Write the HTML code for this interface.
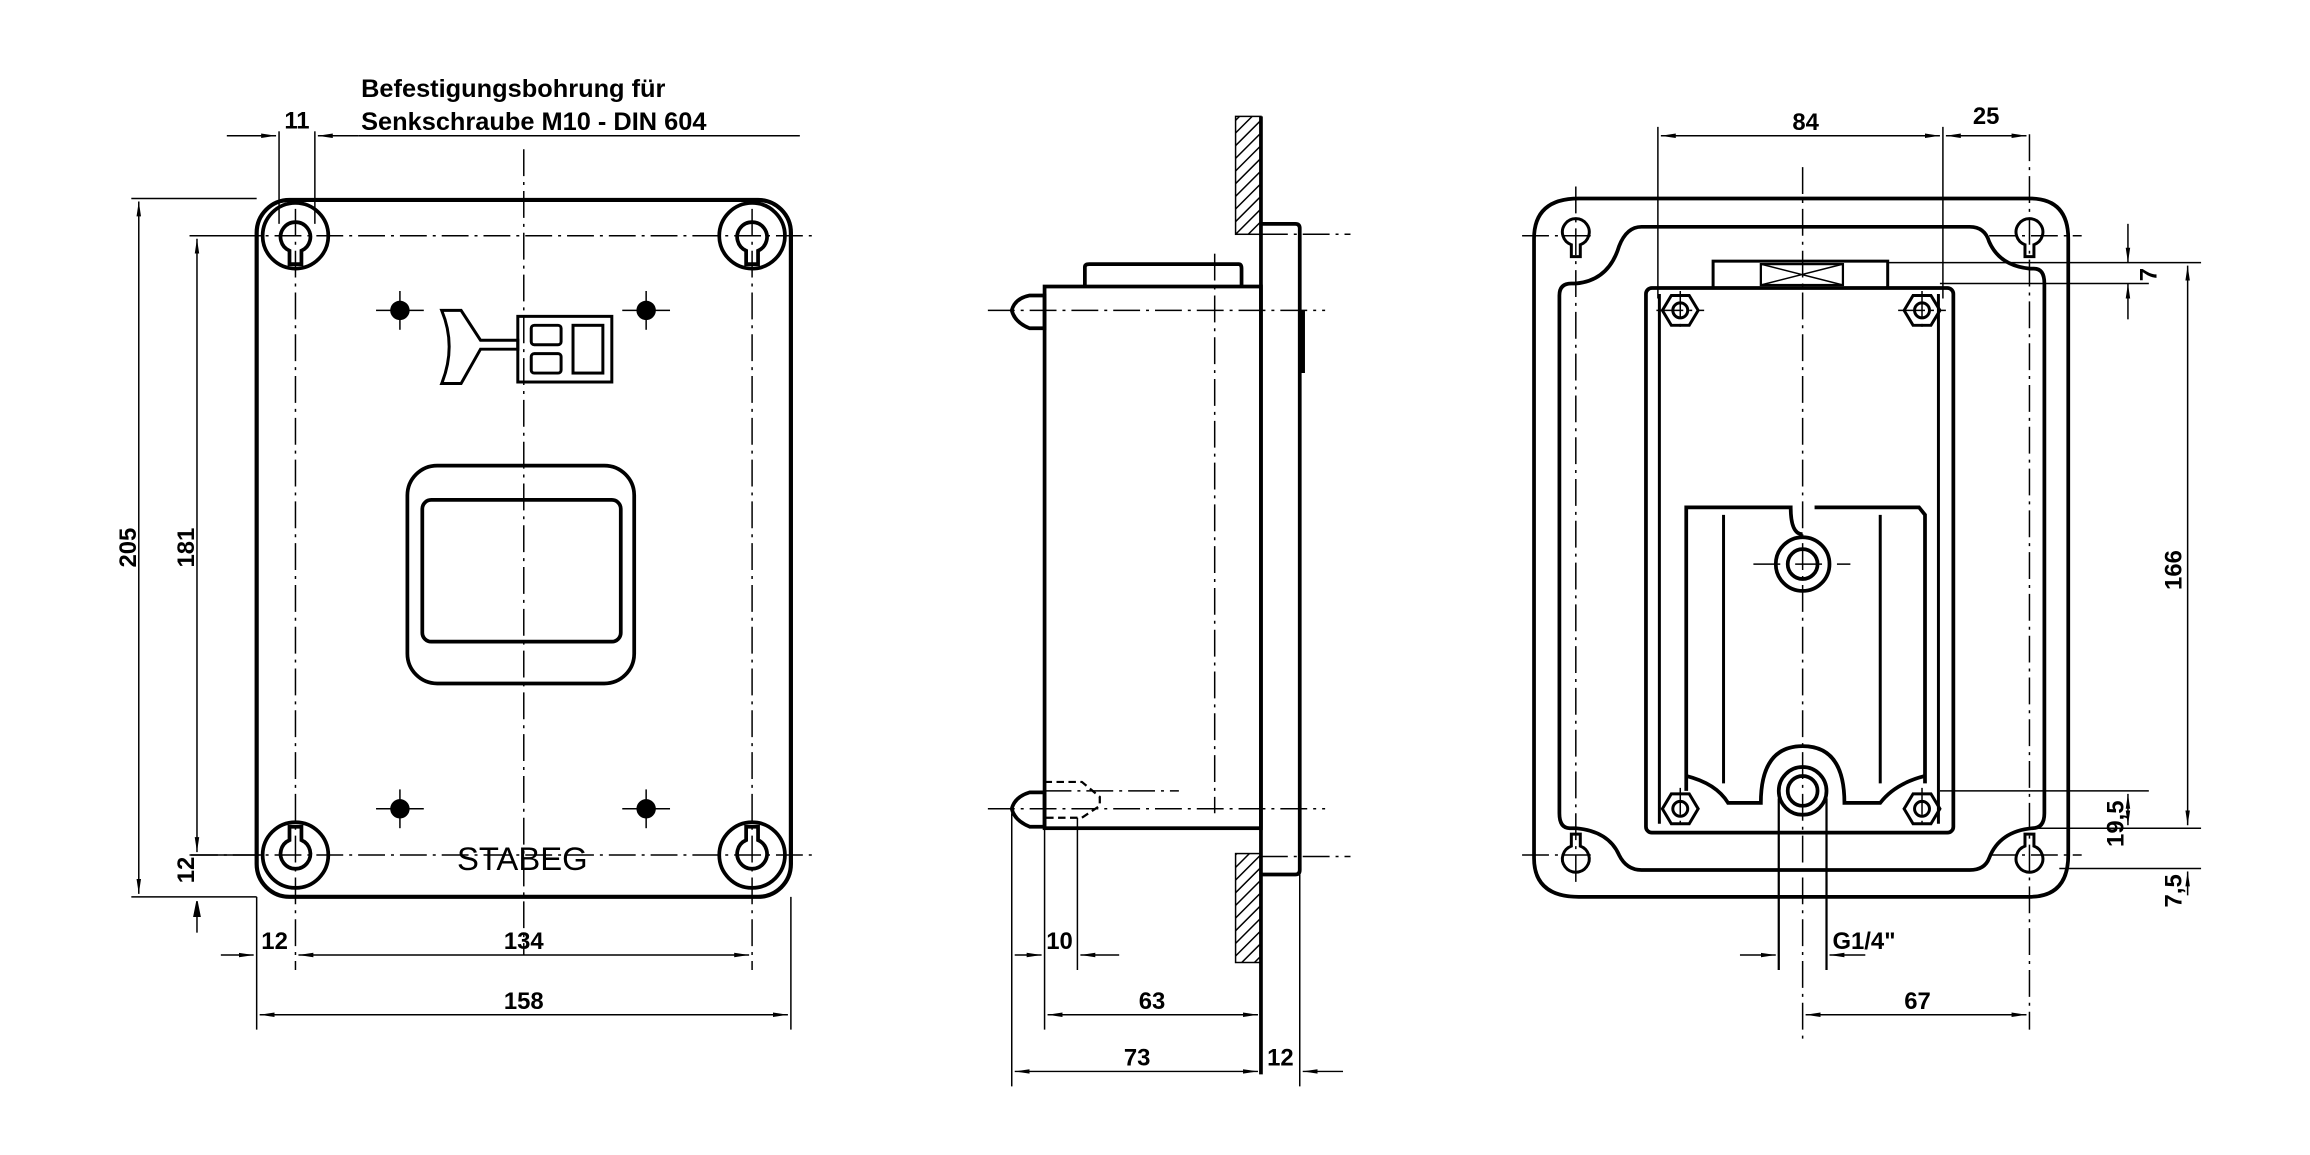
<!DOCTYPE html>
<html><head><meta charset="utf-8"><style>
html,body{margin:0;padding:0;background:#fff}
svg{display:block}
text{font-family:"Liberation Sans",sans-serif;font-weight:bold;fill:#000}
text.n{font-weight:normal}
</style></head><body>
<svg width="2310" height="1155" viewBox="0 0 1548 774" xmlns="http://www.w3.org/2000/svg">
<defs>
<marker id="a" viewBox="0 0 10 4" refX="10" refY="2" markerWidth="10" markerHeight="4" orient="auto-start-reverse" markerUnits="userSpaceOnUse"><path d="M0,0.5 L10,2 L0,3.5 Z" fill="#000"/></marker>
<pattern id="h" width="6" height="6" patternUnits="userSpaceOnUse" patternTransform="rotate(45)"><line x1="0" y1="0" x2="0" y2="6" stroke="#000" stroke-width="2"/></pattern>
</defs>
<g fill="none" stroke="#000" stroke-width="1">
<!-- ========== LEFT VIEW ========== -->
<g stroke-dasharray="18,4,2,4">
<line x1="128" y1="158" x2="545" y2="158"/><line x1="128" y1="573" x2="545" y2="573"/>
<line x1="198" y1="140" x2="198" y2="650"/><line x1="504" y1="140" x2="504" y2="650"/>
<line x1="351" y1="100" x2="351" y2="640"/>
</g>
<rect x="172" y="134" width="358" height="467" rx="22" stroke-width="2.8"/>
<g stroke-width="2.5">
<circle cx="198" cy="158" r="22"/><circle cx="504" cy="158" r="22"/>
<circle cx="198" cy="573" r="22"/><circle cx="504" cy="573" r="22"/>
<path d="M194,177 L194,168 A10,10 0 1 1 202,168 L202,177 Z"/>
<path d="M500,177 L500,168 A10,10 0 1 1 508,168 L508,177 Z"/>
<path d="M194,554 L194,563 A10,10 0 1 0 202,563 L202,554 Z"/>
<path d="M500,554 L500,563 A10,10 0 1 0 508,563 L508,554 Z"/>
</g>
<g fill="#000">
<circle cx="268" cy="208" r="6"/><circle cx="433" cy="208" r="6"/>
<circle cx="268" cy="542" r="6"/><circle cx="433" cy="542" r="6"/>
</g>
<g>
<line x1="252" y1="208" x2="284" y2="208"/><line x1="268" y1="195" x2="268" y2="221"/>
<line x1="417" y1="208" x2="449" y2="208"/><line x1="433" y1="195" x2="433" y2="221"/>
<line x1="252" y1="542" x2="284" y2="542"/><line x1="268" y1="529" x2="268" y2="555"/>
<line x1="417" y1="542" x2="449" y2="542"/><line x1="433" y1="529" x2="433" y2="555"/>
</g>
<g stroke-width="2">
<path d="M296,208 L309,208 L322,228 L347,228 L347,234 L322,234 L309,257 L296,257 Q306,232 296,208 Z"/>
<rect x="347" y="212" width="63" height="44"/>
<rect x="356" y="218" width="20" height="13" rx="2"/><rect x="356" y="237" width="20" height="13" rx="2"/>
<rect x="384" y="218" width="20" height="32"/>
</g>
<rect x="273" y="312" width="152" height="146" rx="20" stroke-width="2.5"/>
<rect x="283" y="335" width="133" height="95" rx="6" stroke-width="2.5"/>
<text class="n" x="350" y="583" font-size="22" text-anchor="middle" stroke="none">STABEG</text>
<!-- dims left -->
<line x1="88" y1="133" x2="172" y2="133"/><line x1="88" y1="601" x2="172" y2="601"/>
<line x1="93" y1="135" x2="93" y2="599" marker-start="url(#a)" marker-end="url(#a)"/>
<line x1="127" y1="158" x2="175" y2="158"/><line x1="127" y1="573" x2="175" y2="573"/>
<line x1="132" y1="160" x2="132" y2="571" marker-start="url(#a)" marker-end="url(#a)"/>
<line x1="132" y1="604" x2="132" y2="625" /><path d="M132,604 L130,614 L134,614Z" fill="#000"/>
<line x1="172" y1="601" x2="172" y2="690"/><line x1="530" y1="601" x2="530" y2="690"/>
<line x1="148" y1="640" x2="170" y2="640" marker-end="url(#a)"/>
<line x1="200" y1="640" x2="502" y2="640" marker-start="url(#a)" marker-end="url(#a)"/>
<line x1="174" y1="680" x2="528" y2="680" marker-start="url(#a)" marker-end="url(#a)"/>
<line x1="187" y1="88" x2="187" y2="150"/><line x1="211" y1="88" x2="211" y2="150"/>
<line x1="152" y1="91" x2="185" y2="91" marker-end="url(#a)"/>
<line x1="240" y1="91" x2="213" y2="91" marker-end="url(#a)"/>
<line x1="240" y1="91" x2="536" y2="91"/>
</g>
<g stroke="none" font-size="16">
<text x="242" y="65" font-size="17">Befestigungsbohrung für</text>
<text x="242" y="87" font-size="17">Senkschraube M10 - DIN 604</text>
<text x="199" y="86" text-anchor="middle">11</text>
<text transform="translate(91,367) rotate(-90)" text-anchor="middle">205</text>
<text transform="translate(130,367) rotate(-90)" text-anchor="middle">181</text>
<text transform="translate(130,583) rotate(-90)" text-anchor="middle">12</text>
<text x="184" y="636" text-anchor="middle">12</text>
<text x="351" y="636" text-anchor="middle">134</text>
<text x="351" y="676" text-anchor="middle">158</text>
</g>
<!-- ========== MIDDLE VIEW ========== -->
<g fill="none" stroke="#000" stroke-width="1">
<rect x="828" y="78" width="17" height="79" fill="url(#h)"/>
<rect x="828" y="572" width="17" height="73" fill="url(#h)"/>
<line x1="845" y1="78" x2="845" y2="720" stroke-width="2.5"/>
<path d="M845,150 L868,150 Q871,150 871,153 L871,583 Q871,586 868,586 L845,586" stroke-width="2.5"/>
<line x1="873" y1="208" x2="873" y2="250" stroke-width="3"/>
<rect x="700" y="192" width="145" height="363" stroke-width="2.5"/>
<path d="M727,192 L727,179 Q727,177 730,177 L830,177 Q832,177 832,180 L832,192" stroke-width="2.5"/>
<path d="M700,198 L690,198 Q680,200 678,208 Q680,216 690,220 L700,220 Z" stroke-width="2.5"/>
<path d="M700,531 L690,531 Q680,534 678,542 Q680,550 690,554 L700,554 Z" stroke-width="2.5"/>
<path d="M700,524 L725,524 L737,534 L737,540 L725,548 L700,548" stroke-dasharray="5,3" stroke-width="1.5"/>
<g stroke-dasharray="18,4,2,4">
<line x1="662" y1="208" x2="888" y2="208"/><line x1="662" y1="542" x2="888" y2="542"/>
<line x1="845" y1="157" x2="905" y2="157"/><line x1="845" y1="574" x2="905" y2="574"/>
<line x1="700" y1="530" x2="790" y2="530"/>
<line x1="814" y1="170" x2="814" y2="545"/>
</g>
<line x1="678" y1="545" x2="678" y2="728"/><line x1="700" y1="555" x2="700" y2="690"/>
<line x1="722" y1="548" x2="722" y2="650"/><line x1="871" y1="586" x2="871" y2="728"/>
<line x1="680" y1="640" x2="698" y2="640" marker-end="url(#a)"/>
<line x1="750" y1="640" x2="724" y2="640" marker-end="url(#a)"/>
<line x1="702" y1="680" x2="843" y2="680" marker-start="url(#a)" marker-end="url(#a)"/>
<line x1="680" y1="718" x2="843" y2="718" marker-start="url(#a)" marker-end="url(#a)"/>
<line x1="900" y1="718" x2="873" y2="718" marker-end="url(#a)"/>
</g>
<g stroke="none" font-size="16">
<text x="710" y="636" text-anchor="middle">10</text>
<text x="772" y="676" text-anchor="middle">63</text>
<text x="762" y="714" text-anchor="middle">73</text>
<text x="858" y="714" text-anchor="middle">12</text>
</g>
<!-- ========== RIGHT VIEW ========== -->
<g fill="none" stroke="#000" stroke-width="2.5">
<path d="M1058,133 L1360,133 Q1386,133 1386,160 L1386,573 Q1386,601 1360,601 L1058,601 Q1028,601 1028,575 L1028,160 Q1028,133 1058,133 Z"/>
<path d="M1100,152 L1320,152 Q1330,152 1333,162 Q1340,178 1360,180 L1363,180 Q1370,180 1370,190 L1370,545 Q1370,555 1362,555 Q1340,557 1333,575 Q1330,583 1320,583 L1100,583 Q1090,583 1085,573 Q1078,557 1056,555 L1052,555 Q1045,555 1045,545 L1045,198 Q1045,190 1053,190 L1056,190 Q1078,188 1085,165 Q1090,152 1100,152 Z"/>
<rect x="1103" y="193" width="206" height="365" rx="4"/>
<line x1="1112" y1="197" x2="1112" y2="552" stroke-width="2"/>
<line x1="1299" y1="197" x2="1299" y2="552" stroke-width="2"/>
<rect x="1148" y="175" width="117" height="18" stroke-width="2"/>
<rect x="1180" y="177" width="55" height="14" stroke-width="1.5"/>
<path d="M1180,177 L1235,191 M1180,191 L1235,177" stroke-width="1"/>
<path d="M1130,530 L1130,340 L1200,340 Q1200,358 1208,358 M1216,340 L1286,340 L1290,345 L1290,525 M1200,340 Q1200,340 1200,340"/>
<line x1="1155" y1="345" x2="1155" y2="525" stroke-width="2"/>
<line x1="1260" y1="345" x2="1260" y2="525" stroke-width="2"/>
<path d="M1130,520 Q1150,525 1158,538 L1180,538 Q1180,500 1208,500 Q1236,500 1236,538 L1260,538 Q1270,525 1290,520"/>
<circle cx="1208" cy="378" r="18"/><circle cx="1208" cy="378" r="10"/>
<circle cx="1208" cy="530" r="16"/><circle cx="1208" cy="530" r="10"/>
<line x1="1192" y1="535" x2="1192" y2="650" stroke-width="1.5"/>
<line x1="1224" y1="535" x2="1224" y2="650" stroke-width="1.5"/>
<g stroke-width="2">
<path d="M1053,164 L1053,172 L1059,172 L1059,164 A9,9 0 1 0 1053,164 Z"/>
<path d="M1357,164 L1357,172 L1363,172 L1363,164 A9,9 0 1 0 1357,164 Z"/>
<path d="M1053,567 L1053,559 L1059,559 L1059,567 A9,9 0 1 1 1053,567 Z"/>
<path d="M1357,567 L1357,559 L1363,559 L1363,567 A9,9 0 1 1 1357,567 Z"/>
</g>
<g stroke-width="2">
<polygon points="1114,208 1120,198 1132,198 1138,208 1132,218 1120,218"/><circle cx="1126" cy="208" r="5"/>
<polygon points="1276,208 1282,198 1294,198 1300,208 1294,218 1282,218"/><circle cx="1288" cy="208" r="5"/>
<polygon points="1114,542 1120,532 1132,532 1138,542 1132,552 1120,552"/><circle cx="1126" cy="542" r="5"/>
<polygon points="1276,542 1282,532 1294,532 1300,542 1294,552 1282,552"/><circle cx="1288" cy="542" r="5"/>
</g>
</g>
<g fill="none" stroke="#000" stroke-width="1">
<g stroke-dasharray="18,4,2,4">
<line x1="1208" y1="112" x2="1208" y2="700"/>
<line x1="1020" y1="158" x2="1070" y2="158"/><line x1="1333" y1="158" x2="1395" y2="158"/>
<line x1="1020" y1="573" x2="1070" y2="573"/><line x1="1333" y1="573" x2="1395" y2="573"/>
<line x1="1056" y1="125" x2="1056" y2="592"/><line x1="1360" y1="90" x2="1360" y2="690"/>
<line x1="1175" y1="378" x2="1240" y2="378"/>
<line x1="1110" y1="208" x2="1142" y2="208"/><line x1="1126" y1="195" x2="1126" y2="222"/>
<line x1="1272" y1="208" x2="1304" y2="208"/><line x1="1288" y1="195" x2="1288" y2="222"/>
<line x1="1126" y1="528" x2="1126" y2="556"/><line x1="1288" y1="528" x2="1288" y2="556"/>
</g>
<line x1="1111" y1="85" x2="1111" y2="200"/><line x1="1302" y1="85" x2="1302" y2="200"/>
<line x1="1113" y1="91" x2="1300" y2="91" marker-start="url(#a)" marker-end="url(#a)"/>
<line x1="1304" y1="91" x2="1358" y2="91" marker-start="url(#a)" marker-end="url(#a)"/>
<line x1="1265" y1="176" x2="1475" y2="176"/><line x1="1300" y1="190" x2="1440" y2="190"/>
<line x1="1426" y1="150" x2="1426" y2="176" marker-end="url(#a)"/>
<line x1="1426" y1="214" x2="1426" y2="190" marker-end="url(#a)"/>
<line x1="1466" y1="178" x2="1466" y2="553" marker-start="url(#a)" marker-end="url(#a)"/>
<line x1="1300" y1="530" x2="1440" y2="530"/><line x1="1360" y1="555" x2="1475" y2="555"/>
<line x1="1380" y1="582" x2="1475" y2="582"/>
<line x1="1426" y1="532" x2="1426" y2="553" marker-start="url(#a)" marker-end="url(#a)"/>
<line x1="1466" y1="600" x2="1466" y2="584" marker-end="url(#a)"/>
<line x1="1166" y1="640" x2="1190" y2="640" marker-end="url(#a)"/>
<line x1="1250" y1="640" x2="1226" y2="640" marker-end="url(#a)"/>
<line x1="1210" y1="680" x2="1358" y2="680" marker-start="url(#a)" marker-end="url(#a)"/>
</g>
<g stroke="none" font-size="16">
<text x="1210" y="87" text-anchor="middle">84</text>
<text x="1331" y="83" text-anchor="middle">25</text>
<text transform="translate(1445,184) rotate(-90)" text-anchor="middle">7</text>
<text transform="translate(1462,382) rotate(-90)" text-anchor="middle">166</text>
<text transform="translate(1423,552) rotate(-90)" text-anchor="middle">19,5</text>
<text transform="translate(1462,597) rotate(-90)" text-anchor="middle">7,5</text>
<text x="1228" y="636">G1/4"</text>
<text x="1285" y="676" text-anchor="middle">67</text>
</g>
</svg>
</body></html>
